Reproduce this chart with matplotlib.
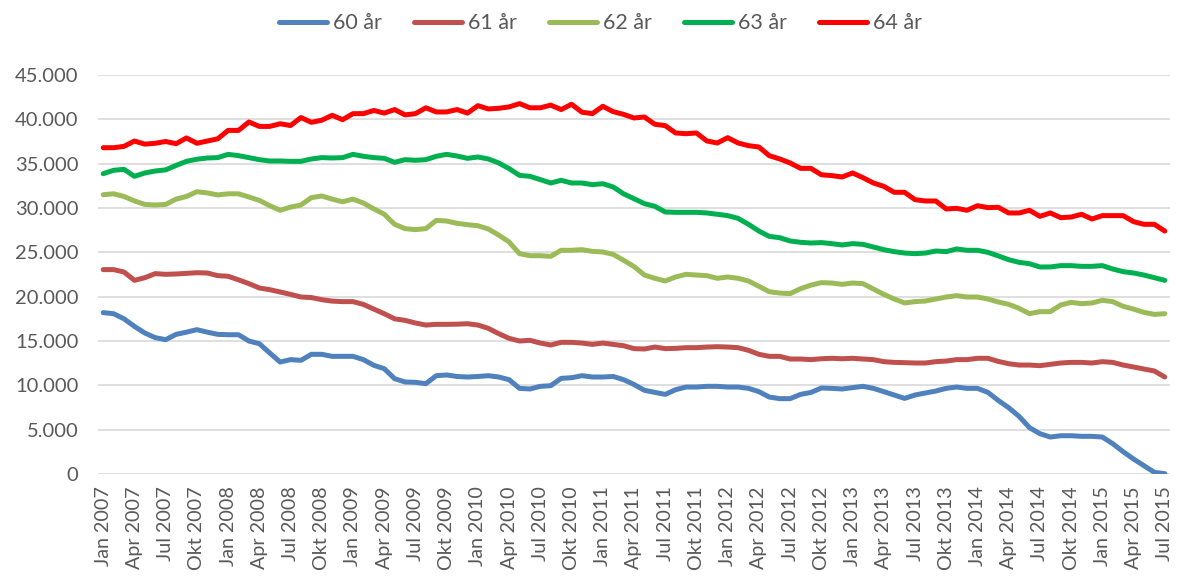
import matplotlib
matplotlib.use("Agg")
import matplotlib.pyplot as plt
from matplotlib.ticker import FuncFormatter
import numpy as np

# månader jan 2007 - jul 2015
months = ["Jan", "Feb", "Mar", "Apr", "Maj", "Jun", "Jul", "Aug", "Sep", "Okt", "Nov", "Dec"]
labels = [f"{months[i % 12]} {2007 + i // 12}" for i in range(103)]

# värden i tusental
v60 = [18.2, 18.08, 17.5, 16.65, 15.9, 15.38, 15.15, 15.75, 16.0, 16.28, 16.0, 15.75, 15.71, 15.71, 15.0, 14.7, 13.65,
       12.63, 12.9, 12.82, 13.5, 13.5, 13.27, 13.27, 13.27, 12.9, 12.26, 11.88, 10.75, 10.38, 10.34, 10.19, 11.09, 11.17,
       11.0, 10.94, 11.0, 11.09, 10.94, 10.64, 9.66, 9.59, 9.89, 9.96, 10.79, 10.86, 11.09, 10.94, 10.94, 11.0, 10.64,
       10.1, 9.44, 9.21, 8.98, 9.51, 9.81, 9.81, 9.89, 9.89, 9.81, 9.81, 9.66, 9.29, 8.68, 8.5, 8.5, 8.98, 9.2,
       9.7, 9.66, 9.59, 9.74, 9.89, 9.66, 9.29, 8.91, 8.53, 8.91, 9.14, 9.36, 9.66, 9.81, 9.66, 9.66, 9.21, 8.3,
       7.48, 6.5, 5.23, 4.55, 4.17, 4.32, 4.32, 4.25, 4.25, 4.17, 3.42, 2.52, 1.69, 0.94, 0.19, 0.04]
v61 = [23.05, 23.05, 22.78, 21.84, 22.14, 22.6, 22.52, 22.56, 22.63, 22.7, 22.67, 22.37, 22.3, 21.9, 21.47, 20.98, 20.79,
       20.53, 20.26, 19.96, 19.9, 19.66, 19.5, 19.44, 19.44, 19.13, 18.6, 18.08, 17.5, 17.33, 17.03, 16.8, 16.88, 16.88,
       16.9, 16.95, 16.8, 16.43, 15.83, 15.3, 15.0, 15.08, 14.77, 14.55, 14.85, 14.85, 14.77, 14.62, 14.77, 14.62, 14.47,
       14.14, 14.1, 14.32, 14.14, 14.17, 14.25, 14.25, 14.32, 14.36, 14.32, 14.25, 13.95, 13.5, 13.27, 13.27, 12.97, 12.97,
       12.9, 13.0, 13.05, 13.0, 13.05, 12.97, 12.9, 12.67, 12.59, 12.56, 12.52, 12.52, 12.67, 12.74, 12.9, 12.9, 13.05,
       13.05, 12.7, 12.44, 12.29, 12.29, 12.22, 12.37, 12.52, 12.59, 12.59, 12.52, 12.67, 12.59, 12.29, 12.07, 11.84,
       11.62, 10.94]
v62 = [31.5, 31.6, 31.3, 30.8, 30.4, 30.34, 30.4, 31.0, 31.3, 31.84, 31.7, 31.47, 31.6, 31.6, 31.24, 30.86, 30.26,
       29.74, 30.1, 30.34, 31.17, 31.35, 31.0, 30.7, 31.0, 30.56, 29.9, 29.3, 28.16, 27.67, 27.56, 27.67, 28.6, 28.53,
       28.27, 28.12, 28.0, 27.63, 26.95, 26.17, 24.85, 24.62, 24.62, 24.55, 25.23, 25.23, 25.3, 25.11, 25.04, 24.77, 24.1,
       23.4, 22.44, 22.07, 21.77, 22.22, 22.52, 22.44, 22.37, 22.07, 22.22, 22.07, 21.77, 21.17, 20.56, 20.41, 20.34,
       20.9, 21.3, 21.58, 21.54, 21.39, 21.54, 21.47, 20.86, 20.26, 19.74, 19.29, 19.44, 19.51, 19.74, 19.96, 20.11,
       19.96, 19.96, 19.74, 19.4, 19.14, 18.68, 18.08, 18.31, 18.31, 19.06, 19.36, 19.21, 19.29, 19.59, 19.44, 18.91,
       18.6, 18.23, 18.0, 18.08]
v63 = [33.87, 34.25, 34.36, 33.57, 33.95, 34.17, 34.3, 34.8, 35.26, 35.5, 35.64, 35.68, 36.05, 35.9, 35.68, 35.45, 35.3,
       35.3, 35.26, 35.26, 35.53, 35.68, 35.64, 35.68, 36.05, 35.83, 35.68, 35.6, 35.15, 35.45, 35.38, 35.45, 35.83, 36.05,
       35.86, 35.6, 35.75, 35.53, 35.08, 34.44, 33.68, 33.57, 33.2, 32.82, 33.12, 32.82, 32.82, 32.63, 32.74, 32.37, 31.6,
       31.05, 30.49, 30.19, 29.55, 29.51, 29.51, 29.51, 29.44, 29.29, 29.14, 28.83, 28.16, 27.4, 26.8, 26.65, 26.28, 26.13,
       26.05, 26.1, 25.98, 25.83, 25.98, 25.9, 25.6, 25.3, 25.08, 24.92, 24.85, 24.92, 25.15, 25.08, 25.38, 25.23, 25.23,
       25.0, 24.6, 24.17, 23.87, 23.72, 23.35, 23.35, 23.5, 23.5, 23.42, 23.42, 23.5, 23.12, 22.82, 22.67, 22.44, 22.14,
       21.84]
v64 = [36.8, 36.8, 36.95, 37.55, 37.2, 37.3, 37.5, 37.25, 37.9, 37.3, 37.55, 37.8, 38.75, 38.75, 39.7, 39.2, 39.2,
       39.5, 39.3, 40.2, 39.66, 39.9, 40.45, 39.96, 40.64, 40.64, 41.0, 40.7, 41.1, 40.5, 40.64, 41.3, 40.83, 40.83,
       41.1, 40.7, 41.54, 41.17, 41.24, 41.4, 41.77, 41.3, 41.3, 41.6, 41.1, 41.7, 40.8, 40.64, 41.47, 40.86, 40.56,
       40.15, 40.26, 39.44, 39.29, 38.46, 38.38, 38.46, 37.56, 37.33, 37.93, 37.33, 37.03, 36.88, 35.9, 35.53, 35.08,
       34.47, 34.47, 33.75, 33.65, 33.5, 33.95, 33.42, 32.82, 32.44, 31.77, 31.77, 30.94, 30.79, 30.79, 29.89, 29.96,
       29.74, 30.26, 30.04, 30.08, 29.44, 29.44, 29.74, 29.06, 29.44, 28.91, 28.98, 29.29, 28.76, 29.14, 29.14, 29.14,
       28.46, 28.16, 28.16, 27.4]

series = [("60 år", v60, "#4F81BD"), ("61 år", v61, "#C0504D"), ("62 år", v62, "#9BBB59"),
          ("63 år", v63, "#00B050"), ("64 år", v64, "#FF0000")]

plt.rcParams['font.family'] = ['Lato', 'DejaVu Sans']

fig = plt.figure(figsize=(11.78, 5.79), dpi=100)
ax = fig.add_axes([0.0832, 0.1813, 0.91, 0.6892])

x = np.arange(len(labels))
for name, vals, col in series:
    ax.plot(x, np.array(vals) * 1000, color=col, linewidth=3.6, label=name, solid_capstyle='round')

ax.set_xlim(-0.5, len(labels) - 0.5)
ax.set_ylim(0, 45000)
ax.set_yticks(np.arange(0, 45001, 5000))
ax.yaxis.set_major_formatter(FuncFormatter(lambda v, p: f"{int(v):,}".replace(",", ".")))
ax.set_xticks(x[::3])
ax.set_xticklabels(labels[::3], rotation=90)
ax.tick_params(axis='both', length=0, colors='#595959')
ax.tick_params(axis='y', labelsize=14.5, pad=14)
ax.tick_params(axis='x', labelsize=14.2, pad=9)
ax.grid(axis='y', color='#D9D9D9', linewidth=1.2)
ax.set_axisbelow(True)
for s in ax.spines.values():
    s.set_visible(False)

fig.legend(loc='center', bbox_to_anchor=(0.51, 0.96), ncol=5, frameon=False, fontsize=15.5,
           handlelength=2.2, columnspacing=1.5, handletextpad=0.3, labelcolor='#595959')

fig.savefig("out.png", dpi=100)
